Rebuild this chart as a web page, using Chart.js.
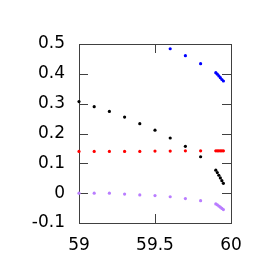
<!DOCTYPE html>
<html><head><meta charset="utf-8">
<script src="https://cdn.jsdelivr.net/npm/chart.js@4"></script>
<style>html,body{margin:0;padding:0;background:#fff}#wrap{width:266px;height:266px}</style>
</head><body><div id="wrap"><canvas id="c" width="266" height="266"></canvas></div>
<script>
const xCoarse = [59.0, 59.1, 59.2, 59.3, 59.4, 59.5, 59.6, 59.7, 59.8];
const xFine = [59.90, 59.91, 59.92, 59.93, 59.94, 59.95];
const blackCoarse = [0.307, 0.290, 0.274, 0.255, 0.233, 0.211, 0.185, 0.157, 0.122];
const blackFine = [0.077, 0.069, 0.060, 0.051, 0.042, 0.033];
const redCoarse = [0.140, 0.140, 0.140, 0.140, 0.140, 0.141, 0.141, 0.142, 0.142];
const redFine = [0.142, 0.142, 0.142, 0.142, 0.142, 0.142];
const blueX = [59.6, 59.7, 59.8];
const blueCoarse = [0.484, 0.461, 0.434];
const blueFine = [0.404, 0.399, 0.393, 0.387, 0.381, 0.376];
const purpleCoarse = [0.000, 0.000, 0.000, -0.003, -0.006, -0.008, -0.012, -0.018, -0.025];
const purpleFine = [-0.036, -0.039, -0.043, -0.047, -0.051, -0.055];
const xTicks = [59, 59.5, 60];
const yTicks = [-0.1, 0, 0.1, 0.2, 0.3, 0.4, 0.5];

function pts(xs, ys) { return xs.map((x, i) => ({x: x, y: ys[i]})); }
function ds(data, color) {
  return {data: data, backgroundColor: color, borderColor: color, pointRadius: 1.6, pointBorderWidth: 0, showLine: false, clip: 3};
}
const frame = {
  id: 'frame',
  beforeDatasetsDraw(chart) {
    const {ctx, chartArea: a, scales: {x, y}} = chart;
    ctx.save();
    ctx.strokeStyle = '#404040';
    ctx.lineWidth = 1;
    ctx.strokeRect(Math.round(a.left) + 0.5, Math.round(a.top) + 0.5, Math.round(a.right - a.left), Math.round(a.bottom - a.top));
    const L = 9;
    ctx.beginPath();
    xTicks.forEach(v => {
      const px = Math.round(x.getPixelForValue(v)) + 0.5;
      ctx.moveTo(px, a.bottom); ctx.lineTo(px, a.bottom - L);
      ctx.moveTo(px, a.top); ctx.lineTo(px, a.top + L);
    });
    yTicks.forEach(v => {
      const py = Math.round(y.getPixelForValue(v)) + 0.5;
      ctx.moveTo(a.left, py); ctx.lineTo(a.left + L, py);
      ctx.moveTo(a.right, py); ctx.lineTo(a.right - L, py);
    });
    ctx.stroke();
    ctx.restore();
  }
};
new Chart(document.getElementById('c'), {
  type: 'scatter',
  data: {datasets: [
    ds(pts(xCoarse, blackCoarse).concat(pts(xFine, blackFine)), '#000000'),
    ds(pts(xCoarse, redCoarse).concat(pts(xFine, redFine)), '#ff0000'),
    ds(pts(blueX, blueCoarse).concat(pts(xFine, blueFine)), '#0000ff'),
    ds(pts(xCoarse, purpleCoarse).concat(pts(xFine, purpleFine)), 'rgb(185,125,255)')
  ]},
  options: {
    responsive: false, animation: false,
    layout: {padding: {top: 44, right: 35, bottom: 0, left: 0}},
    plugins: {legend: {display: false}, tooltip: {enabled: false}},
    scales: {
      x: {
        type: 'linear', min: 59, max: 60,
        afterBuildTicks(s) { s.ticks = xTicks.map(v => ({value: v})); },
        afterFit(s) { s.height = 43; },
        grid: {display: false, drawTicks: false}, border: {display: false},
        ticks: {padding: 12, color: '#000', font: {family: 'DejaVu Sans', size: 17}, maxRotation: 0,
          callback: v => String(v)}
      },
      y: {
        type: 'linear', min: -0.1, max: 0.5,
        afterBuildTicks(s) { s.ticks = yTicks.map(v => ({value: v})); },
        afterFit(s) { s.width = 79; },
        grid: {display: false, drawTicks: false}, border: {display: false},
        ticks: {padding: 14, color: '#000', font: {family: 'DejaVu Sans', size: 17},
          callback: v => String(Math.round(v * 10) / 10)}
      }
    }
  },
  plugins: [frame]
});
</script></body></html>
